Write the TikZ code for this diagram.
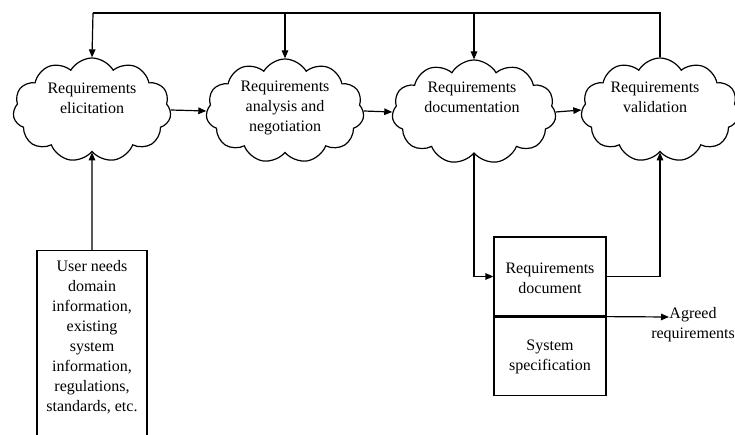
\documentclass[tikz,border=0pt]{standalone}
\usepackage{fontspec}
\setmainfont{Liberation Serif}
\usetikzlibrary{shapes.symbols,arrows.meta}
\tikzset{
  ln/.style={line width=1.2pt, line join=miter},
  arr/.style={ln, -{Triangle[length=8pt,width=6.5pt]}},
  cl/.style={cloud, cloud ignores aspect, draw, ln, cloud puffs=11, cloud puff arc=120, minimum width=158pt, minimum height=104pt, inner sep=0pt},
  txt/.style={align=center, font=\fontsize{16}{20}\selectfont, inner sep=0pt},
  boxs/.style={draw, ln, rectangle, inner sep=0pt}
}
\begin{document}
\begin{tikzpicture}[x=1pt,y=-1pt]
\useasboundingbox (0,0) rectangle (735,435);
\clip (0,0) rectangle (735,435);
% clouds
\node[cl] (c1) at (92,110) {};
\node[cl] (c2) at (285,111) {};
\node[cl, minimum width=164pt] (c3) at (474,112) {};
\node[cl] (c4) at (660,110) {};
\node[txt] (t1) at (92,98) {Requirements\\elicitation};
\node[txt] (t2) at (285,107.5) {Requirements\\analysis and\\negotiation};
\node[txt] (t3) at (472,97.5) {Requirements\\documentation};
\node[txt] (t4) at (655,97.5) {Requirements\\validation};
% boxes
\node[boxs, minimum width=110pt, minimum height=210pt, anchor=north] (needs) at (92,250) {};
\node[txt] (needstxt) at (92,337) {User needs\\domain\\information,\\existing\\system\\information,\\regulations,\\standards, etc.};
\node[boxs, minimum width=112pt, minimum height=79pt] (reqdoc) at (550,276.5) {};
\node[txt] (reqdoctxt) at (550,278) {Requirements\\document};
\node[boxs, minimum width=112pt, minimum height=78pt] (sysspec) at (550,356.5) {};
\node[txt] (sysspectxt) at (550,357) {System\\specification};
\node[txt] (agreed) at (693,325) {Agreed\\requirements};
\coordinate (agreedtip) at (669,317);
\coordinate (top1) at (93,13);
% connectors
\draw[arr] (c1.east) -- (c2.west);
\draw[arr] (c2.east) -- (c3.west);
\draw[arr] (c3.east) -- (c4.west);
\draw[ln] (c4.north) |- (top1);
\draw[arr] (top1) -- (c1.north);
\draw[arr] (c2.north |- top1) -- (c2.north);
\draw[arr] (c3.north |- top1) -- (c3.north);
\draw[arr] (needs.north) -- (c1.south);
\draw[arr] (c3.south) |- (reqdoc.west);
\draw[arr] (reqdoc.east) -| (c4.south);
\draw[arr] (reqdoc.south east) -- (agreedtip);
\end{tikzpicture}
\end{document}
